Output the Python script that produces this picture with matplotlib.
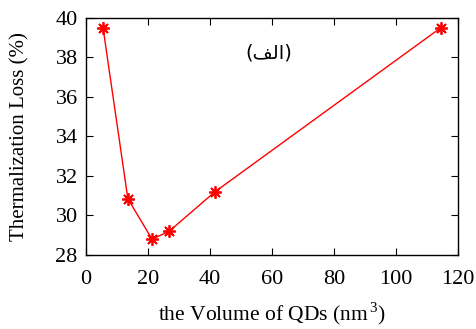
import matplotlib
matplotlib.use("Agg")
import matplotlib.pyplot as plt

plt.rcParams["font.family"] = ["Liberation Serif", "DejaVu Sans"]
plt.rcParams["mathtext.fontset"] = "custom"
plt.rcParams["mathtext.rm"] = "Liberation Serif"

# data
volume = [5.5, 13.5, 21.3, 26.8, 41.6, 114.4]
loss = [39.5, 30.85, 28.8, 29.2, 31.2, 39.5]
xticks = [0, 20, 40, 60, 80, 100, 120]
yticks = [28, 30, 32, 34, 36, 38, 40]
# "(الف)" written in visual order with presentation forms (no shaping in matplotlib)
panel_label = "(\uFED2\uFEDF\u0627)"

fig = plt.figure(figsize=(4.76, 3.29), dpi=100)
ax = fig.add_axes([86 / 476, 1 - 255 / 329, (458 - 86) / 476, (255 - 18) / 329])

ax.plot(volume, loss, color="red", lw=1.0, marker=(8, 2, 0), ms=9, mew=1.3,
        mec="red", mfc="red")

ax.set_xlim(0, 120)
ax.set_ylim(28, 40)
ax.set_xticks(xticks)
ax.set_yticks(yticks)
ax.tick_params(direction="in", top=True, right=True, labelsize=16, length=5, width=0.8)
ax.tick_params(axis="x", pad=11)
ax.tick_params(axis="y", pad=6)
for s in ax.spines.values():
    s.set_linewidth(1.0)

ax.set_xlabel(r"the Volume of QDs (nm$^{\,3}$)", fontsize=15.5, labelpad=8)
ax.set_ylabel("Thermalization Loss (%)", fontsize=15, labelpad=19)

ax.text(59, 38.25, panel_label, fontsize=14, family=["DejaVu Sans"], ha="center", va="center")

fig.savefig("out.png", dpi=100)
